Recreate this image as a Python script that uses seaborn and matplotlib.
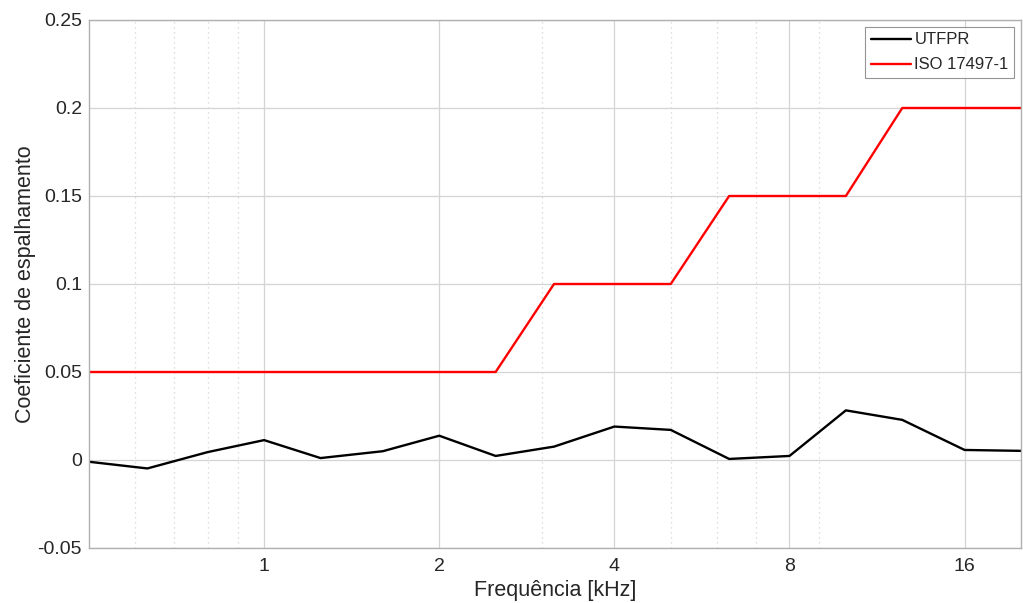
"""Scattering coefficient: UTFPR measurement vs ISO 17497-1 limit."""
import numpy as np
import pandas as pd
import matplotlib
matplotlib.use("Agg")
import matplotlib.pyplot as plt
from matplotlib.ticker import FixedLocator, NullFormatter
import seaborn as sns

FREQ = [0.5, 0.63, 0.8, 1, 1.25, 1.6, 2, 2.5, 3.15, 4, 5, 6.3, 8, 10, 12.5, 16, 20]
UTFPR = [-0.001, -0.0048, 0.0045, 0.0113, 0.0011, 0.005, 0.0138, 0.0023, 0.0076,
         0.019, 0.0171, 0.0006, 0.0023, 0.0282, 0.0228, 0.0057, 0.0052]
ISO = [0.05, 0.05, 0.05, 0.05, 0.05, 0.05, 0.05, 0.05, 0.1,
       0.1, 0.1, 0.15, 0.15, 0.15, 0.2, 0.2, 0.2]
MAJOR_X = [1, 2, 4, 8, 16]
MINOR_X = [0.6, 0.7, 0.8, 0.9, 3, 5, 6, 7, 9]
YTICKS = [-0.05, 0, 0.05, 0.1, 0.15, 0.2, 0.25]

sns.set_theme(style="white")
plt.rcParams["font.family"] = ["Liberation Sans", "DejaVu Sans"]

df = pd.concat([
    pd.DataFrame({"f": FREQ, "s": UTFPR, "serie": "UTFPR"}),
    pd.DataFrame({"f": FREQ, "s": ISO, "serie": "ISO 17497-1"}),
])

fig = plt.figure(figsize=(10.23, 6.03), dpi=100)
ax = fig.add_axes([89 / 1023, 1 - 548 / 603, (1021 - 89) / 1023, (548 - 20) / 603])
sns.lineplot(data=df, x="f", y="s", hue="serie", palette={"UTFPR": "black", "ISO 17497-1": "#ff0000"},
             lw=1.7, ax=ax, legend=True)

ax.set_xscale("log")
ax.set_xlim(0.5, 20)
ax.set_ylim(-0.05, 0.25)
ax.xaxis.set_major_locator(FixedLocator(MAJOR_X))
ax.xaxis.set_minor_locator(FixedLocator(MINOR_X))
ax.xaxis.set_minor_formatter(NullFormatter())
ax.set_xticklabels([str(v) for v in MAJOR_X])
ax.set_yticks(YTICKS)
ax.set_yticklabels(["-0.05", "0", "0.05", "0.1", "0.15", "0.2", "0.25"])

ax.grid(True, which="major", color="#d4d4d4", lw=0.9)
ax.grid(True, which="minor", axis="x", color="#d4d4d4", lw=0.9, ls=(0, (1, 3)))
ax.set_axisbelow(True)
ax.tick_params(which="both", direction="in", colors="#7a7a7a", labelcolor="#262626",
               labelsize=14, length=5, width=0.9, top=False, right=False, pad=7)
ax.tick_params(axis="y", pad=5)
ax.tick_params(axis="x", which="major", length=10)
for sp in ax.spines.values():
    sp.set_color("#b0b0b0"); sp.set_linewidth(1.0)

ax.set_xlabel("Frequência [kHz]", fontsize=15.5, color="#262626", labelpad=4)
ax.set_ylabel("Coeficiente de espalhamento", fontsize=15.5, color="#262626", labelpad=1)

leg = ax.legend(loc="upper right", fontsize=12, frameon=True, fancybox=False, borderpad=0.35,
                handlelength=2.4, handletextpad=0.2, borderaxespad=0.4, labelspacing=0.6)
leg.get_frame().set_edgecolor("#7a7a7a")
leg.get_frame().set_linewidth(0.8)

fig.savefig("out.png", dpi=100)
